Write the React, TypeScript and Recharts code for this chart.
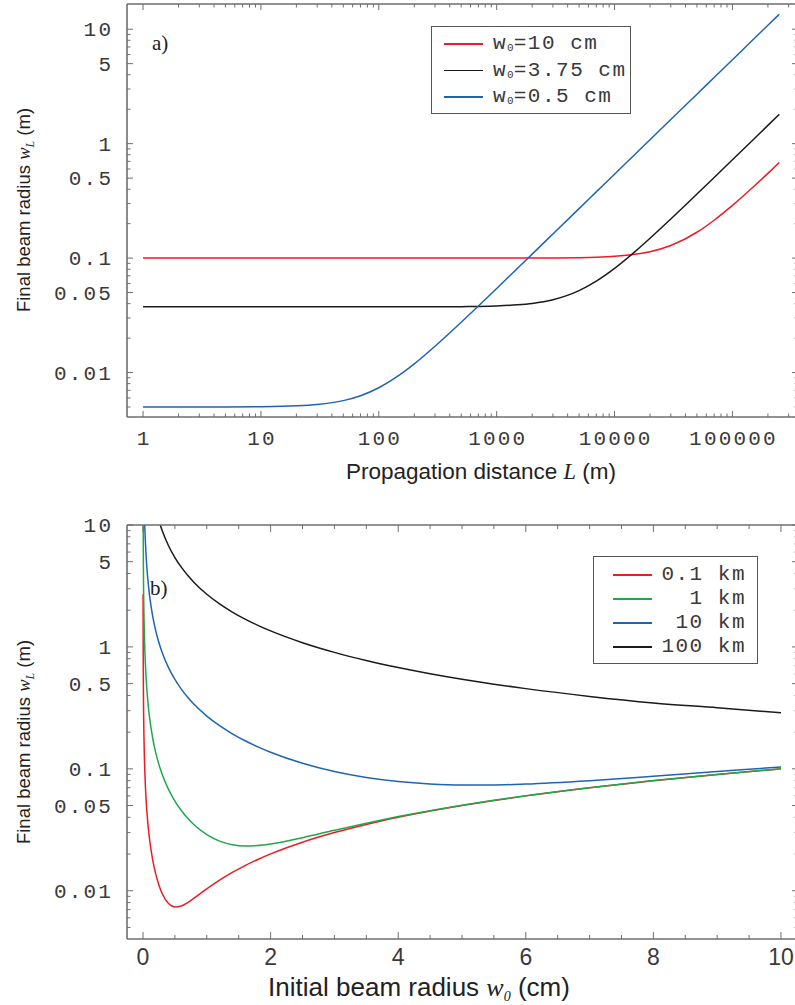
import React from "react";
import { LineChart, Line, XAxis, YAxis, Legend } from "recharts";

// panel a) final beam radius (m) against propagation distance L (m)
const distances = [
  1, 2, 5, 10, 20, 30, 50, 70, 100, 150, 200, 300, 500, 700, 1000, 1500, 2000,
  3000, 5000, 7000, 10000, 15000, 20000, 30000, 50000, 70000, 100000, 150000,
  200000, 250000,
];
const radiusW10 = [
  0.1, 0.1, 0.1, 0.1, 0.1, 0.1, 0.1, 0.1, 0.1, 0.1, 0.1, 0.1, 0.1, 0.1, 0.1,
  0.1001, 0.1001, 0.1003, 0.1009, 0.1018, 0.1036, 0.1079, 0.1137, 0.1288,
  0.1682, 0.2142, 0.2885, 0.418, 0.5503, 0.6838,
];
const radiusW375 = [
  0.0375, 0.0375, 0.0375, 0.0375, 0.0375, 0.0375, 0.0375, 0.0375, 0.0375,
  0.03752, 0.03753, 0.03756, 0.03767, 0.03784, 0.03819, 0.03903, 0.04018,
  0.0433, 0.05204, 0.0629, 0.08131, 0.1145, 0.1491, 0.2197, 0.3627, 0.5065,
  0.7225, 1.083, 1.444, 1.804,
];
const radiusW05 = [
  0.005, 0.005, 0.005007, 0.005029, 0.005116, 0.005258, 0.005685, 0.006273,
  0.007368, 0.009533, 0.01192, 0.01699, 0.02751, 0.03821, 0.05434, 0.08132,
  0.1083, 0.1624, 0.2706, 0.3788, 0.5411, 0.8117, 1.082, 1.623, 2.706, 3.788,
  5.411, 8.117, 10.82, 13.53,
];
const topNames = ["10", "3.75", "0.5"]; // w0 in cm

// panel b) final beam radius (m) against initial radius w0 (cm)
const initialRadii = [
  0.001, 0.002, 0.005, 0.01, 0.02, 0.03, 0.05, 0.075, 0.1, 0.15, 0.2, 0.25, 0.3,
  0.4, 0.5, 0.6, 0.7, 0.8, 1, 1.2, 1.4, 1.6, 1.8, 2, 2.5, 3, 3.5, 4, 4.5, 5, 5.5,
  6, 7, 8, 9, 10,
];
const radius01km = [
  2.706, 1.353, 0.5411, 0.2706, 0.1353, 0.09019, 0.05411, 0.03608, 0.02707,
  0.0181, 0.01368, 0.01111, 0.009505, 0.007858, 0.007368, 0.007506, 0.007996,
  0.008686, 0.01036, 0.01221, 0.01413, 0.01609, 0.01806, 0.02005, 0.02502,
  0.03001, 0.03501, 0.04001, 0.045, 0.05, 0.055, 0.06, 0.07, 0.08, 0.09, 0.1,
];
const radius1km = [
  27.06, 13.53, 5.411, 2.706, 1.353, 0.9019, 0.5411, 0.3608, 0.2706, 0.1804,
  0.1353, 0.1083, 0.09024, 0.06776, 0.05434, 0.04549, 0.03928, 0.03476, 0.02885,
  0.02554, 0.02386, 0.02328, 0.02345, 0.02415, 0.02724, 0.03133, 0.03584,
  0.04057, 0.0454, 0.05029, 0.05522, 0.06017, 0.07011, 0.08007, 0.09005, 0.1,
];
const radius10km = [
  270.6, 135.3, 54.11, 27.06, 13.53, 9.019, 5.411, 3.608, 2.706, 1.804, 1.353,
  1.082, 0.9019, 0.6764, 0.5411, 0.451, 0.3866, 0.3383, 0.2708, 0.2258, 0.1938,
  0.1699, 0.1514, 0.1368, 0.1111, 0.09505, 0.08486, 0.07858, 0.0751, 0.07368,
  0.07379, 0.07506, 0.07996, 0.08686, 0.09489, 0.1036,
];
const radius100km = [
  2706, 1353, 541.1, 270.6, 135.3, 90.19, 54.11, 36.08, 27.06, 18.04, 13.53,
  10.82, 9.019, 6.764, 5.411, 4.509, 3.865, 3.382, 2.706, 2.255, 1.933, 1.691,
  1.503, 1.353, 1.083, 0.9024, 0.7738, 0.6776, 0.6029, 0.5434, 0.495, 0.4549,
  0.3928, 0.3475, 0.317, 0.2885,
];
const bottomNames = ["0.1 km", "1 km", "10 km", "100 km"];

// tick labels
const topXMajor = [1, 10, 100, 1000, 10000, 100000];
const logYMajor = [0.01, 0.05, 0.1, 0.5, 1, 5, 10];
const linXMajor = [0, 2, 4, 6, 8, 10];

const RED = "#ec1c24";
const BLACK = "#1a1a1a";
const BLUE = "#1e64b4";
const GREEN = "#1fa84a";
const FRAME = "#6e6e6e";

const MONO = "'Liberation Mono', 'Courier New', monospace";
const SANS = "'Liberation Sans', Arial, sans-serif";
const NARROW = "'Liberation Sans Narrow', 'Arial Narrow', 'Liberation Sans', sans-serif";
const SERIF = "'Liberation Serif', 'Times New Roman', serif";

const logMinor = (lo: number, hi: number, skip: number[]) => {
  const out: number[] = [];
  for (let k = -4; k <= 6; k++) {
    for (let m = 1; m <= 9; m++) {
      const v = +(m * Math.pow(10, k)).toPrecision(6);
      if (v > lo && v < hi && !skip.some((s) => Math.abs(s - v) < 1e-9 * s)) out.push(v);
    }
  }
  return out;
};

const topXTicks = [...topXMajor, ...logMinor(0.9, 360000, topXMajor)];
const topYTicks = [...logYMajor, ...logMinor(0.0041, 16, logYMajor)];
const botYTicks = [...logYMajor, ...logMinor(0.0041, 9.99, logYMajor)];
const linXTicks = [0, 0.5, 1, 1.5, 2, 2.5, 3, 3.5, 4, 4.5, 5, 5.5, 6, 6.5, 7, 7.5, 8, 8.5, 9, 9.5, 10];

const topRows = distances.map((L, i) => ({
  L,
  w10: radiusW10[i],
  w375: radiusW375[i],
  w05: radiusW05[i],
}));
const botRows = initialRadii.map((w0, i) => ({
  w0,
  k01: radius01km[i],
  k1: radius1km[i],
  k10: radius10km[i],
  k100: radius100km[i],
}));

type Side = "bottom" | "left" | "top" | "right";

const makeTick =
  (side: Side, majors: number[], long: number, short: number, label?: { font: string; size: number; spacing: number; dy: number }) =>
  (props: any) => {
    const { x, y, payload } = props;
    const v = payload.value as number;
    const major = majors.some((m) => Math.abs(m - v) <= 1e-9 * Math.max(1, Math.abs(m)));
    const len = major ? long : short;
    let tick;
    if (side === "bottom") tick = <line x1={x} y1={y} x2={x} y2={y - len} />;
    else if (side === "top") tick = <line x1={x} y1={y} x2={x} y2={y + len} />;
    else if (side === "left") tick = <line x1={x} y1={y} x2={x + len} y2={y} />;
    else tick = <line x1={x} y1={y} x2={x - len} y2={y} />;
    let text = null;
    if (label && major) {
      const style = {
        fontFamily: label.font,
        fontSize: label.size,
        letterSpacing: `${label.spacing}px`,
        fill: "#3a3a3a",
        stroke: "none",
      };
      text =
        side === "bottom" ? (
          <text x={x + label.spacing / 2} y={y + label.dy} textAnchor="middle" style={style}>
            {String(v)}
          </text>
        ) : (
          <text x={x - 16 + label.spacing} y={y + label.dy} textAnchor="end" style={style}>
            {String(v)}
          </text>
        );
    }
    return (
      <g stroke={FRAME} strokeWidth={1}>
        {tick}
        {text}
      </g>
    );
  };

const monoLabelX = { font: MONO, size: 21, spacing: 2.2, dy: 28 };
const monoLabelY = { font: MONO, size: 21, spacing: 2.2, dy: 7 };
const narrowLabelX = { font: NARROW, size: 23, spacing: 0, dy: 26 };

const axisBase = {
  tickSize: 0,
  tickMargin: 0,
  tickLine: false,
  interval: 0 as const,
  allowDataOverflow: true,
  axisLine: { stroke: FRAME, strokeWidth: 1.6 },
};

function LegendBox({
  rows,
  width,
  height,
  padTop,
  rowH,
  lineLeft,
  textRight,
}: {
  rows: { color: string; label: React.ReactNode }[];
  width: number;
  height: number;
  padTop: number;
  rowH: number;
  lineLeft: number;
  textRight?: number;
}) {
  return (
    <div
      style={{
        width,
        height,
        boxSizing: "border-box",
        border: "1px solid #555",
        background: "#fff",
        position: "relative",
        fontFamily: MONO,
        fontSize: 21,
        letterSpacing: 1.5,
        color: "#3a3a3a",
      }}
    >
      {rows.map((r, i) => (
        <div
          key={i}
          style={{
            position: "absolute",
            top: padTop + i * rowH,
            height: rowH,
            left: 0,
            right: 0,
          }}
        >
          <div
            style={{
              position: "absolute",
              left: lineLeft,
              top: rowH / 2 - 1,
              width: 39,
              height: 1.6,
              background: r.color,
            }}
          />
          <div
            style={{
              position: "absolute",
              top: 0,
              left: textRight === undefined ? 61 : undefined,
              right: textRight,
              whiteSpace: "pre",
              lineHeight: `${rowH}px`,
            }}
          >
            {r.label}
          </div>
        </div>
      ))}
    </div>
  );
}

const topColors = [RED, BLACK, BLUE];
const botColors = [RED, GREEN, BLUE, BLACK];

export default function App() {
  const topLegend = topNames.map((n, i) => ({
    color: topColors[i],
    label: (
      <span>
        w<sub style={{ fontSize: 11, verticalAlign: -2, letterSpacing: 0 }}>0</sub>={n} cm
      </span>
    ),
  }));
  const botLegend = bottomNames.map((n, i) => ({ color: botColors[i], label: n }));

  const line = { dot: false, isAnimationActive: false, strokeWidth: 1.5, type: "monotone" as const };

  return (
    <div style={{ position: "absolute", left: 0, top: 0, width: 795, height: 1005, overflow: "hidden", background: "#fff" }}>
      <div style={{ position: "absolute", left: 0, top: 0 }}>
        <LineChart width={800} height={500} data={topRows} margin={{ top: 3, right: 1, left: 0, bottom: 0 }}>
          <XAxis
            xAxisId="b"
            dataKey="L"
            type="number"
            scale="log"
            domain={[0.731, 360000]}
            ticks={topXTicks}
            height={83}
            tick={makeTick("bottom", topXMajor, 6, 3.5, monoLabelX)}
            {...axisBase}
          />
          <XAxis
            xAxisId="t"
            orientation="top"
            dataKey="L"
            type="number"
            scale="log"
            domain={[0.731, 360000]}
            ticks={topXTicks}
            height={1}
            tick={makeTick("top", topXMajor, 6, 3.5)}
            {...axisBase}
          />
          <YAxis
            yAxisId="l"
            type="number"
            scale="log"
            domain={[0.00409, 16.6]}
            ticks={topYTicks}
            width={127}
            tick={makeTick("left", logYMajor, 6, 3.5, monoLabelY)}
            {...axisBase}
          />
          <YAxis
            yAxisId="r"
            orientation="right"
            type="number"
            scale="log"
            domain={[0.00409, 16.6]}
            ticks={topYTicks}
            width={1}
            tick={makeTick("right", logYMajor, 6, 3.5)}
            {...axisBase}
          />
          <Line xAxisId="b" yAxisId="l" dataKey="w10" stroke={RED} {...line} />
          <Line xAxisId="b" yAxisId="l" dataKey="w375" stroke={BLACK} {...line} />
          <Line xAxisId="b" yAxisId="l" dataKey="w05" stroke={BLUE} {...line} />
          <Legend
            layout="vertical"
            align="center"
            verticalAlign="middle"
            wrapperStyle={{ left: 431, top: 26, width: 200, height: 88 }}
            content={() => <LegendBox rows={topLegend} width={200} height={88} padTop={4} rowH={26.5} lineLeft={12} />}
          />
        </LineChart>
      </div>

      <div style={{ position: "absolute", left: 0, top: 505 }}>
        <LineChart width={800} height={500} data={botRows} margin={{ top: 19, right: 1, left: 0, bottom: 0 }}>
          <XAxis
            xAxisId="b"
            dataKey="w0"
            type="number"
            domain={[-0.251, 10.267]}
            ticks={linXTicks}
            height={66}
            tick={makeTick("bottom", linXMajor, 7, 4, narrowLabelX)}
            {...axisBase}
          />
          <XAxis
            xAxisId="t"
            orientation="top"
            dataKey="w0"
            type="number"
            domain={[-0.251, 10.267]}
            ticks={linXTicks}
            height={1}
            tick={makeTick("top", linXMajor, 7, 4)}
            {...axisBase}
          />
          <YAxis
            yAxisId="l"
            type="number"
            scale="log"
            domain={[0.00402, 10]}
            ticks={botYTicks}
            width={127}
            tick={makeTick("left", logYMajor, 6, 3.5, monoLabelY)}
            {...axisBase}
          />
          <YAxis
            yAxisId="r"
            orientation="right"
            type="number"
            scale="log"
            domain={[0.00402, 10]}
            ticks={botYTicks}
            width={1}
            tick={makeTick("right", logYMajor, 6, 3.5)}
            {...axisBase}
          />
          <Line xAxisId="b" yAxisId="l" dataKey="k01" stroke={RED} {...line} />
          <Line xAxisId="b" yAxisId="l" dataKey="k1" stroke={GREEN} {...line} />
          <Line xAxisId="b" yAxisId="l" dataKey="k10" stroke={BLUE} {...line} />
          <Line xAxisId="b" yAxisId="l" dataKey="k100" stroke={BLACK} {...line} />
          <Legend
            layout="vertical"
            align="center"
            verticalAlign="middle"
            wrapperStyle={{ left: 593, top: 51, width: 165, height: 108 }}
            content={() => (
              <LegendBox rows={botLegend} width={165} height={108} padTop={6} rowH={24} lineLeft={19} textRight={11} />
            )}
          />
        </LineChart>
      </div>

      <svg width={795} height={1005} style={{ position: "absolute", left: 0, top: 0, pointerEvents: "none" }}>
        <text x={152} y={50} fontFamily={SERIF} fontSize={21} fill="#222">
          a)
        </text>
        <text x={150} y={595} fontFamily={SERIF} fontSize={21} fill="#222">
          b)
        </text>
        {[210, 742].map((cy) => (
          <text
            key={cy}
            transform={`translate(30, ${cy}) rotate(-90)`}
            textAnchor="middle"
            fontFamily={NARROW}
            fontSize={18.5}
            fill="#222"
          >
            Final beam radius{" "}
            <tspan fontFamily={SERIF} fontStyle="italic">
              w
            </tspan>
            <tspan fontFamily={SERIF} fontStyle="italic" fontSize={12} dy={4}>
              L
            </tspan>
            <tspan dy={-4}> (m)</tspan>
          </text>
        ))}
        <text x={481} y={479} textAnchor="middle" fontFamily={SANS} fontSize={22.5} fill="#222">
          Propagation distance{" "}
          <tspan fontFamily={SERIF} fontStyle="italic">
            L
          </tspan>{" "}
          (m)
        </text>
        <text x={419} y={996} textAnchor="middle" fontFamily={NARROW} fontSize={26} fill="#222">
          Initial beam radius{" "}
          <tspan fontFamily={SERIF} fontStyle="italic">
            w
          </tspan>
          <tspan fontFamily={SERIF} fontStyle="italic" fontSize={14} dy={5}>
            0
          </tspan>
          <tspan dy={-5}> (cm)</tspan>
        </text>
      </svg>
    </div>
  );
}
